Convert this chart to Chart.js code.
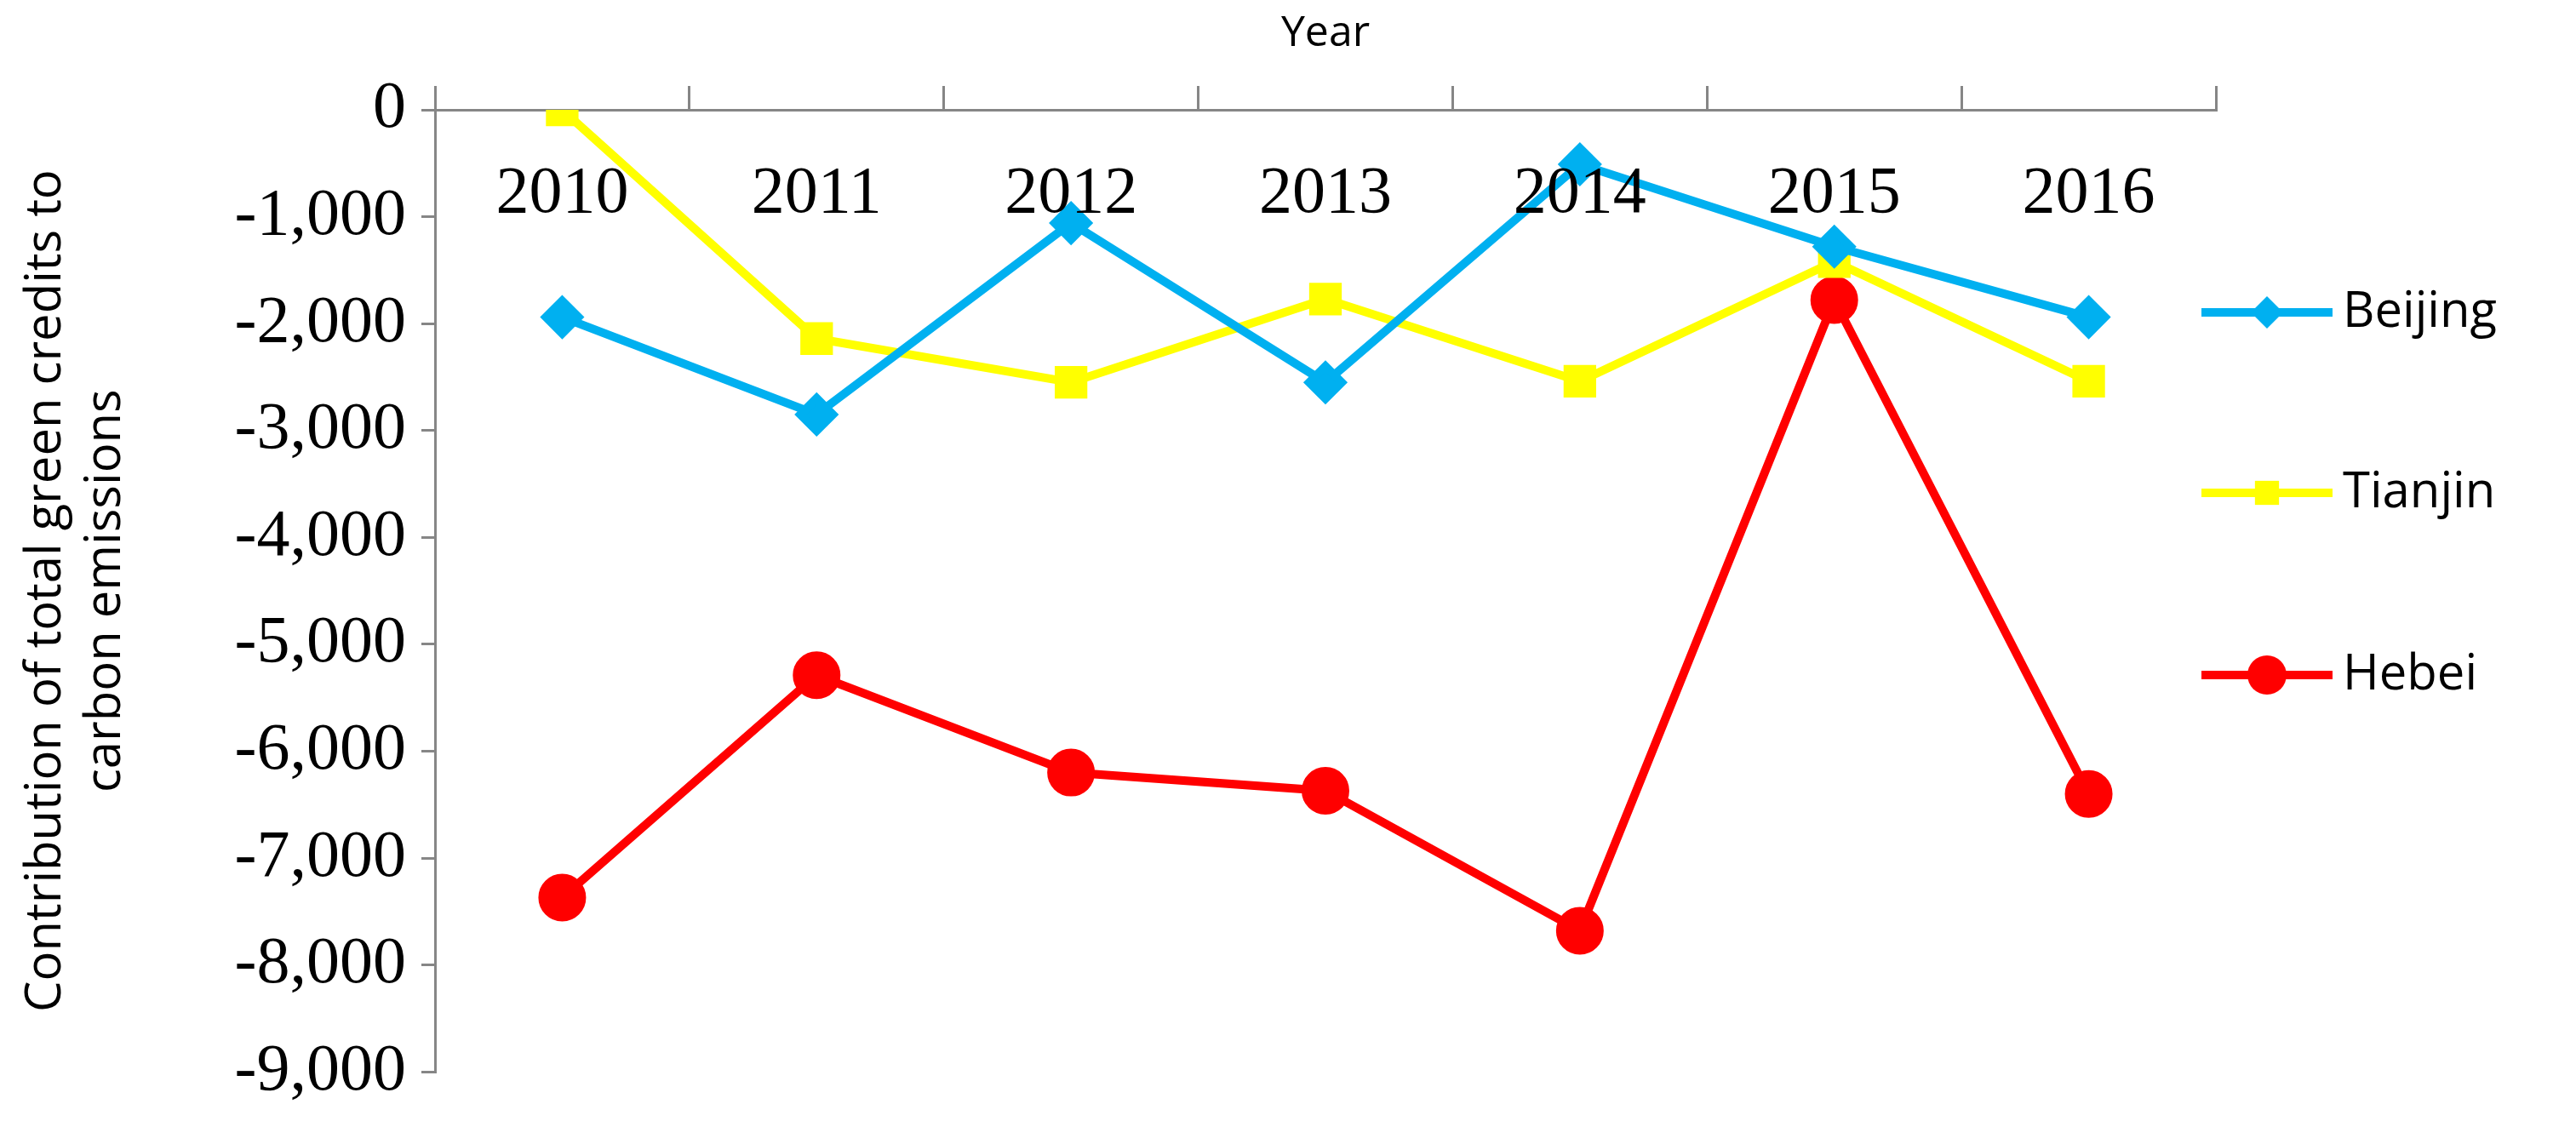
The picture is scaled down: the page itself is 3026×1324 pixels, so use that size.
<!DOCTYPE html>
<html>
<head>
<meta charset="utf-8">
<script src="https://cdn.jsdelivr.net/npm/chart.js@4"></script>
<style>
  html, body { margin: 0; padding: 0; background: #fff; }
  #wrap { width: 3026px; height: 1324px; }
</style>
</head>
<body>
<div id="wrap"><canvas id="chart" width="3026" height="1324"></canvas></div>
<script>
// values
const years = ['2010', '2011', '2012', '2013', '2014', '2015', '2016'];
const beijing = [-1940, -2850, -1060, -2550, -510, -1280, -1940];
const tianjin = [0, -2140, -2550, -1770, -2540, -1420, -2540];
const hebei = [-7370, -5290, -6200, -6370, -7680, -1780, -6400];
const yTicks = [0, -1000, -2000, -3000, -4000, -5000, -6000, -7000, -8000, -9000];

const serif = '"Liberation Serif", "Times New Roman", serif';
const sans = '"Open Sans", "Liberation Sans", sans-serif';
const tickFont = { family: serif, size: 78 };

// x labels sit under the top axis line, inside the plot
const yearLabels = {
    id: 'yearLabels',
    afterDraw(chart) {
        const c = chart.ctx, x = chart.scales.x;
        c.save();
        c.font = '78px ' + serif;
        c.fillStyle = '#000';
        c.textAlign = 'center';
        c.textBaseline = 'middle';
        years.forEach((y, i) => c.fillText(y, x.getPixelForValue(i), chart.chartArea.top + 100));
        c.restore();
    }
};

// legend drawn as line + marker, like the original
const sideLegend = {
    id: 'sideLegend',
    afterDraw(chart) {
        const c = chart.ctx;
        const rows = [367, 579, 793];
        c.save();
        chart.data.datasets.forEach((ds, i) => {
            const y = rows[i];
            c.strokeStyle = ds.borderColor;
            c.lineWidth = ds.borderWidth;
            c.beginPath(); c.moveTo(2586, y); c.lineTo(2740, y); c.stroke();
            c.fillStyle = ds.backgroundColor;
            Chart.helpers.drawPoint(c, { pointStyle: ds.pointStyle, radius: ds.pointRadius, borderWidth: 0 }, 2663, y);
            c.fillStyle = '#000';
            c.font = '58px ' + sans;
            c.textAlign = 'left';
            c.textBaseline = 'middle';
            c.fillText(ds.label, 2752, y);
        });
        c.restore();
    }
};

const ctx = document.getElementById('chart').getContext('2d');
new Chart(ctx, {
    type: 'line',
    data: {
        labels: years,
        datasets: [
            { label: 'Beijing', data: beijing, borderColor: '#00b0f0', backgroundColor: '#00b0f0', borderWidth: 10, pointStyle: 'rectRot', pointRadius: 19, pointHoverRadius: 19 },
            { label: 'Tianjin', data: tianjin, borderColor: '#ffff00', backgroundColor: '#ffff00', borderWidth: 10, pointStyle: 'rect', pointRadius: 20, pointHoverRadius: 20 },
            { label: 'Hebei', data: hebei, borderColor: '#ff0000', backgroundColor: '#ff0000', borderWidth: 10, pointStyle: 'circle', pointRadius: 23, pointHoverRadius: 23 }
        ]
    },
    options: {
        responsive: false, animation: false,
        layout: { padding: { top: 10, left: 20, right: 423, bottom: 40 } },
        scales: {
            x: {
                position: 'top',
                offset: true,
                grid: { display: true, drawOnChartArea: false, offset: true, color: '#868686', lineWidth: 3, tickLength: 28 },
                border: { color: '#868686', width: 3 },
                ticks: { color: 'rgba(0,0,0,0)', font: { family: sans, size: 10 } },
                title: { display: true, text: 'Year', color: '#000', font: { family: sans, size: 50 }, padding: { top: 0, bottom: 0 } },
                afterFit: (s) => { s.height = 119; }
            },
            y: {
                min: -9000, max: 0,
                afterBuildTicks: (s) => { s.ticks = yTicks.map(v => ({ value: v })); },
                grid: { display: true, drawOnChartArea: false, color: '#868686', lineWidth: 3, tickLength: 16 },
                border: { color: '#868686', width: 3 },
                ticks: { color: '#000', font: tickFont, padding: 18, callback: (v) => v.toLocaleString('en-US') },
                title: { display: true, text: ['Contribution of total green credits to', 'carbon emissions'], color: '#000', font: { family: sans, size: 58 }, padding: { top: 0, bottom: 6 } },
                afterFit: (s) => { s.width = 491; }
            }
        },
        plugins: {
            legend: { display: false },
            tooltip: { enabled: false }
        }
    },
    plugins: [yearLabels, sideLegend]
});
</script>
</body>
</html>
